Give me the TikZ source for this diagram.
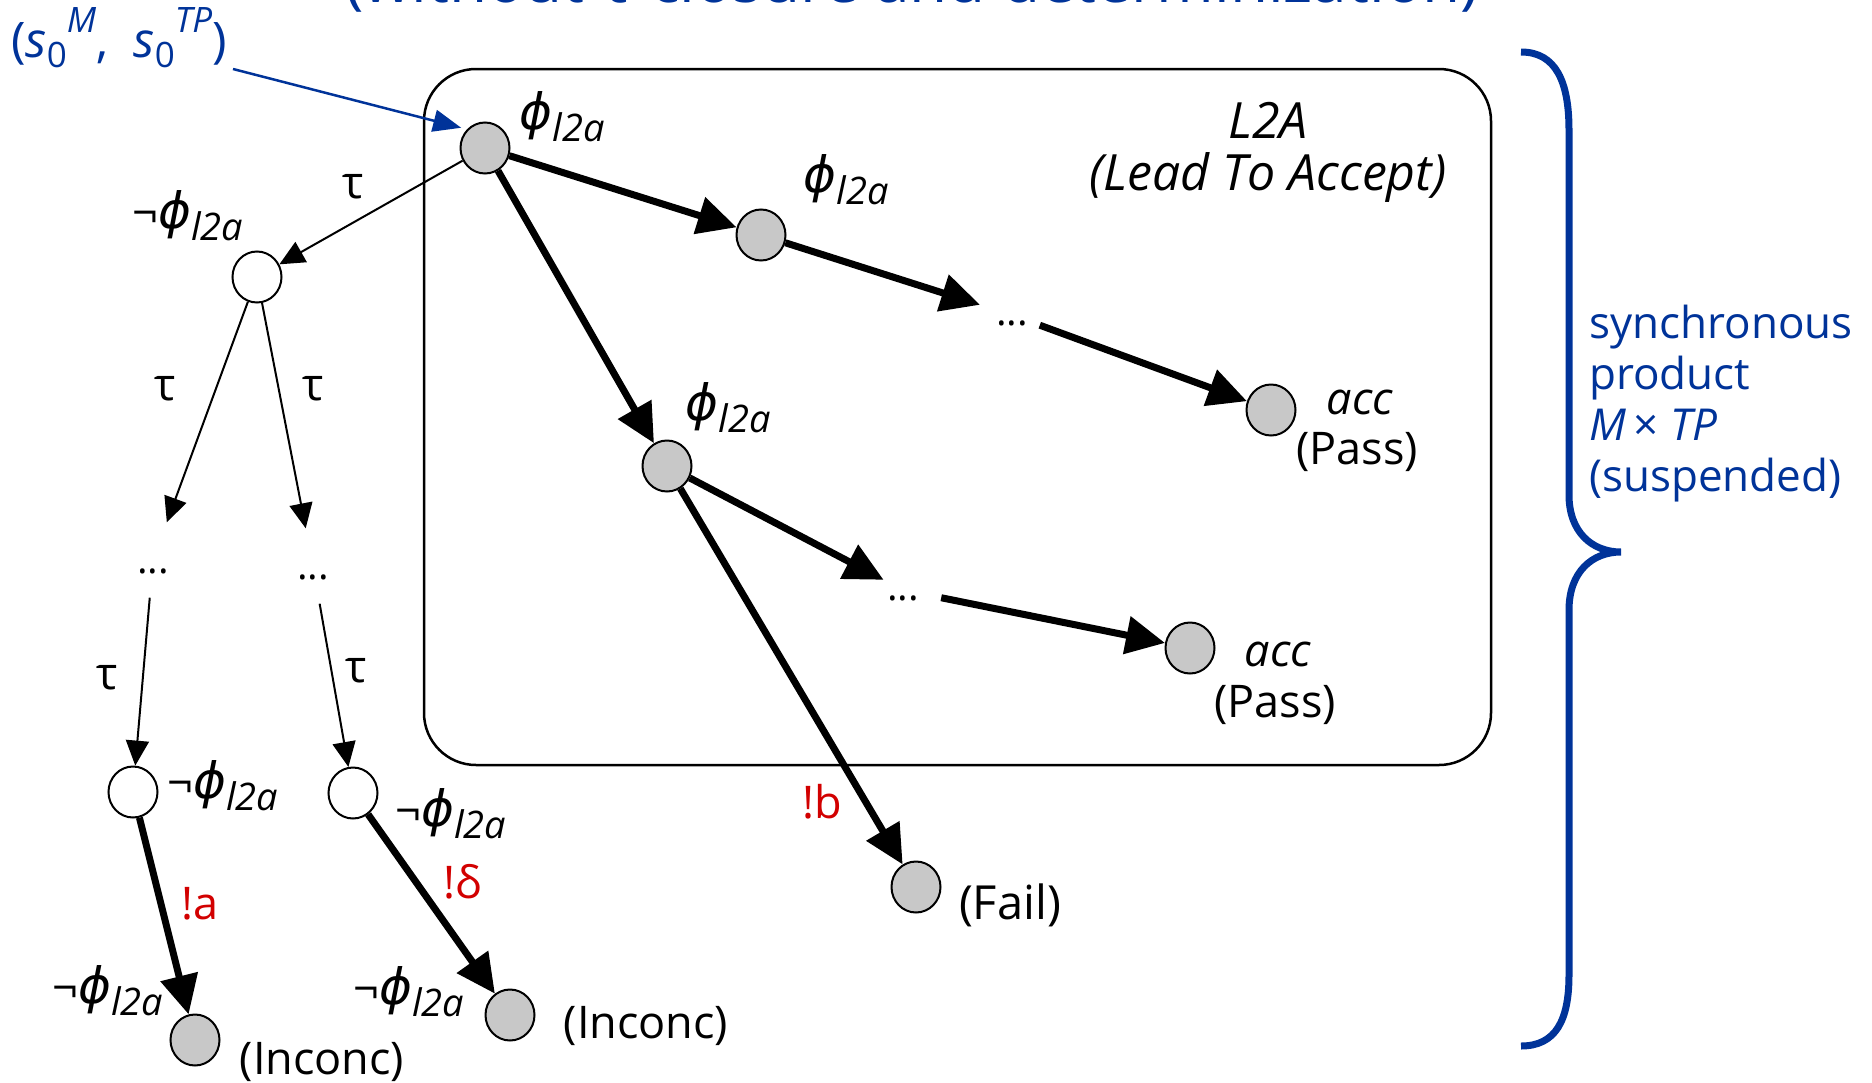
\documentclass[tikz,border=0pt]{standalone}
\usepackage{fontspec}
\setmainfont{Open Sans}
\newfontfamily\phifont{DejaVu Sans}
\usetikzlibrary{arrows.meta,shapes.geometric}
\definecolor{dblue}{RGB}{0,51,153}
\definecolor{dred}{RGB}{210,0,0}
\definecolor{ngray}{RGB}{200,200,200}
\newcommand{\phil}{{\phifont\itshape\fontsize{50}{50}\selectfont ϕ}\raisebox{-12pt}{\fontsize{38}{38}\selectfont\itshape l2a}}
\newcommand{\nphil}{¬\phil}
\newcommand{\szero}[1]{\textit{s}\raisebox{-10pt}{\fontsize{35}{35}\selectfont 0}\raisebox{25pt}{\fontsize{35}{35}\selectfont\itshape #1}}
\begin{document}
\begin{tikzpicture}[x=1pt,y=-1pt,
  state/.style={ellipse,draw,line width=2pt,minimum width=49pt,minimum height=51pt,inner sep=0pt},
  gstate/.style={state,fill=ngray},
  wstate/.style={state,fill=white},
  lbl/.style={inner sep=0pt,font=\fontsize{45}{53}\selectfont},
  blbl/.style={lbl,text=dblue},
  rlbl/.style={lbl,text=dred},
  bigedge/.style={line width=7pt,-{Triangle[length=39pt,width=37pt]}},
  smalledge/.style={line width=2pt,-{Triangle[length=25pt,width=23pt]}},
  dotsnode/.style={inner sep=0pt,font=\fontsize{40}{48}\selectfont,text height=20pt,text depth=0pt},
  vdots/.style={inner sep=0pt,font=\fontsize{40}{48}\selectfont,minimum width=20pt,minimum height=75pt,text height=26pt,text depth=0pt}
]
\useasboundingbox (0,0) rectangle (1872,1082);

% title (cut at top)
\node[anchor=base,inner sep=0pt,font=\fontsize{62}{66}\selectfont,text=dblue] (title) at (912,2) {(without τ-closure and determinization)};

% L2A box
\node[draw,line width=2.5pt,rounded corners=52pt,minimum width=1067pt,minimum height=696pt,inner sep=0pt] (box) at (957.5,417) {};
\node[lbl,align=center,font=\fontsize{50}{52}\selectfont\itshape] (l2a) at (1268,152) {L2A\\(Lead To Accept)};

% states
\node[gstate] (r) at (485,148) {};
\node[gstate] (a1) at (761,235) {};
\node[gstate] (acc1) at (1271,410) {};
\node[gstate] (b1) at (667,466) {};
\node[gstate] (acc2) at (1190,648) {};
\node[gstate] (fail) at (916,887) {};
\node[wstate] (n1) at (257,277) {};
\node[wstate] (w1) at (133,792) {};
\node[wstate] (w2) at (353,793) {};
\node[gstate] (inc1) at (195,1040) {};
\node[gstate] (inc2) at (510,1015) {};

% dots
\node[dotsnode,minimum width=78pt,minimum height=20pt] (d1) at (1012,315) {...};
\node[dotsnode,minimum width=76pt,minimum height=20pt] (d2) at (903,590) {...};
\node[vdots] (dL) at (153,560) {...};
\node[vdots] (dR) at (313,566) {...};

% state labels
\node[lbl] (rl) at (562,117) {\phil};
\node[lbl] (a1l) at (846,180) {\phil};
\node[lbl] (b1l) at (728,408) {\phil};
\node[lbl] (n1l) at (188,216) {\nphil};
\node[lbl] (w1l) at (223,786) {\nphil};
\node[lbl] (w2l) at (451,814) {\nphil};
\node[lbl] (inc1l) at (108,991) {\nphil};
\node[lbl] (inc2l) at (409,992) {\nphil};
\node[lbl] (inc1t) at (322,1062) {(Inconc)};
\node[lbl] (inc2t) at (646,1026) {(Inconc)};
\node[lbl,font=\fontsize{47}{53}\selectfont] (failt) at (1010,905) {(Fail)};
\node[lbl,font=\fontsize{45}{53}\selectfont\itshape] (acc1a) at (1360,402) {acc};
\node[lbl] (acc1p) at (1357,452) {(Pass)};
\node[lbl,font=\fontsize{45}{53}\selectfont\itshape] (acc2a) at (1278,654) {acc};
\node[lbl] (acc2p) at (1275,705) {(Pass)};

% edges
\draw[bigedge] (r) -- (a1);
\draw[bigedge] (a1) -- (d1);
\draw[bigedge] (d1) -- (acc1);
\draw[bigedge] (r) -- (b1);
\draw[bigedge] (b1) -- (d2);
\draw[bigedge] (d2) -- (acc2);
\draw[bigedge] (b1) -- (fail);
\draw[smalledge] (r) -- (n1);
\draw[smalledge] (n1) -- (dL);
\draw[smalledge] (n1) -- (dR);
\draw[smalledge] (dL) -- (w1);
\draw[smalledge] (dR) -- (w2);
\draw[bigedge] (w1) -- (inc1);
\draw[bigedge] (w2) -- (inc2);

% edge labels
\node[lbl] (t1) at (353,187) {τ};
\node[lbl] (t2) at (165,389) {τ};
\node[lbl] (t3) at (313,389) {τ};
\node[lbl] (t4) at (107,678) {τ};
\node[lbl] (t5) at (356,671) {τ};
\node[rlbl] (ea) at (200,904) {!a};
\node[rlbl] (ed) at (463,882) {!δ};
\node[rlbl] (eb) at (822,802) {!b};

% initial state pointer
\node[blbl,font=\fontsize{49}{55}\selectfont] (s0lab) at (119,38) {(\szero{M},\ \ \szero{TP})};
\coordinate (s0from) at (233,69);
\draw[dblue,line width=2.5pt,-{Triangle[length=28pt,width=22pt]},shorten >=6pt] (s0from) -- (r.north west);

% brace and product text
\draw[dblue,line width=7pt] (1521,52) .. controls (1556,52) and (1569,82) .. (1569,130) -- (1569,495) .. controls (1569,532) and (1592,552) .. (1621,552) .. controls (1592,552) and (1569,572) .. (1569,610) -- (1569,975) .. controls (1569,1020) and (1556,1046) .. (1521,1046);
\node[blbl,align=left,anchor=west,font=\fontsize{44}{51}\selectfont] (syn) at (1589,404) {synchronous\\product\\\textit{M}\,×\ \textit{TP}\\(suspended)};
\end{tikzpicture}
\end{document}
